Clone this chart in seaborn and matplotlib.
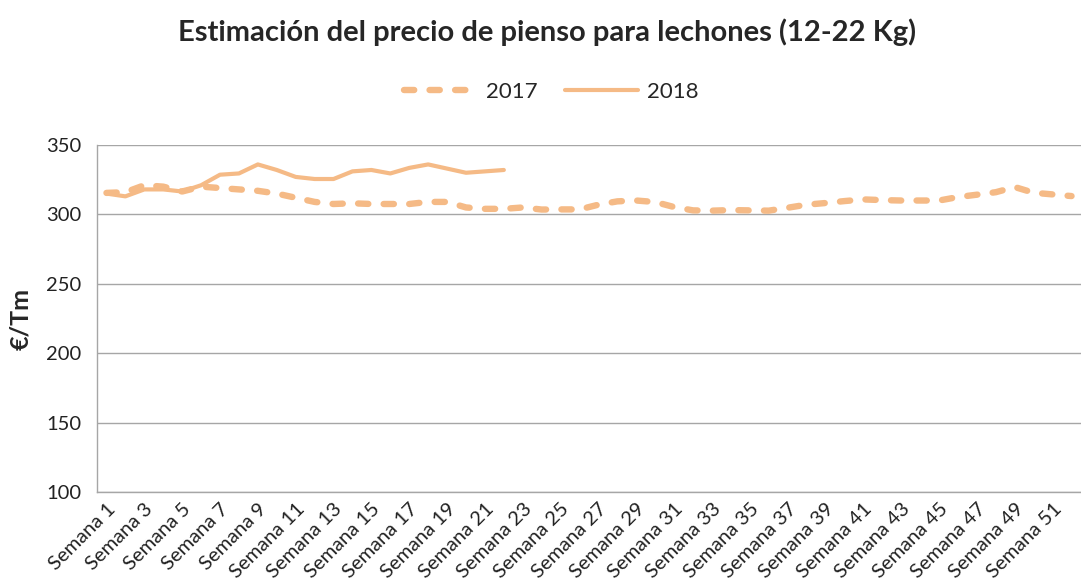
import numpy as np
import pandas as pd
import matplotlib
matplotlib.use("Agg")
import matplotlib.pyplot as plt
import seaborn as sns
from matplotlib.lines import Line2D

weeks = list(range(1, 53))
week_labels = [f"Semana {w}" for w in weeks]
precio_2017 = [315.5, 316, 321, 320, 316.5, 320, 319, 318, 317, 315,
               312, 309, 307.5, 308, 307.5, 307.5, 307.5, 309, 309, 305,
               304, 304, 305, 303.5, 303.6, 303.6, 307, 309.4, 310, 308.9,
               305.3, 302.9, 302.7, 303.1, 302.9, 302.7, 304.8, 307, 308.2, 309.6,
               310.8, 310.3, 310, 310, 310, 312.5, 314.2, 316, 319.7, 315.6,
               314.4, 313.2]
precio_2018 = [315, 313, 318, 318, 316.5, 321, 328.6, 329.5, 336, 332,
               327, 325.5, 325.5, 331, 332, 329.5, 333.5, 336, 333, 330,
               331, 332]
series_names = ["2017", "2018"]
title = "Estimación del precio de pienso para lechones (12-22 Kg)"
ylabel = "€/Tm"

df = pd.concat([
    pd.DataFrame({"semana": weeks[:len(precio_2017)], "precio": precio_2017, "año": "2017"}),
    pd.DataFrame({"semana": weeks[:len(precio_2018)], "precio": precio_2018, "año": "2018"}),
])

sns.set_theme(style="white")
plt.rcParams["font.family"] = ["Lato", "DejaVu Sans"]

color = "#F5BA86"
fig = plt.figure(figsize=(10.81, 5.86), dpi=100)
ax = fig.add_axes([97 / 1081, 1 - 492 / 586, 1 - 97 / 1081, (492 - 145) / 586])

sns.lineplot(data=df, x="semana", y="precio", hue="año", style="año",
             palette={"2017": color, "2018": color},
             dashes={"2017": (1.6, 2.4), "2018": ""},
             ax=ax, legend=False)
lines = ax.get_lines()
lines[0].set_linewidth(4.6)
lines[0].set_dash_capstyle("round")
lines[1].set_linewidth(3.0)
lines[1].set_solid_capstyle("round")

ax.set_ylim(100, 350)
ax.set_yticks([100, 150, 200, 250, 300, 350])
ax.set_xlim(0.5, 52.05)
ax.set_xticks(weeks[::2])
ax.set_xticklabels(week_labels[::2], rotation=45, ha="right", va="top",
                   rotation_mode="anchor", fontsize=14.5, color="#222222")
ax.set_xticks([w + 0.5 for w in range(0, 53)], minor=True)
ax.tick_params(axis="x", which="major", length=0, pad=6)
ax.tick_params(axis="x", which="minor", length=6, width=1, color="#A6A6A6", direction="out")
ax.tick_params(axis="y", which="major", length=7, width=1, color="#A6A6A6", direction="out",
               labelsize=14.5, labelcolor="#222222", pad=4)
ax.yaxis.grid(True, color="#A6A6A6", linewidth=1)
ax.set_axisbelow(True)
for s in ["top", "right"]:
    ax.spines[s].set_visible(False)
for s in ["left", "bottom"]:
    ax.spines[s].set_color("#A6A6A6")
    ax.spines[s].set_linewidth(1)

ax.set_xlabel("")
ax.set_ylabel(ylabel, fontsize=18, fontweight="bold", labelpad=10)

handles = [Line2D([], [], color=color, lw=4.6, dashes=(1.6, 2.4), dash_capstyle="round"),
           Line2D([], [], color=color, lw=3.0)]
fig.legend(handles, series_names, loc="center", bbox_to_anchor=(0.510, 1 - 92 / 586),
           ncol=2, frameon=False, fontsize=16, handlelength=3.3, columnspacing=1.2,
           handletextpad=0.4)

fig.suptitle(title, x=0.506, y=1 - 32 / 586, va="center", fontsize=21, fontweight="bold")

fig.savefig("out.png", dpi=100)
